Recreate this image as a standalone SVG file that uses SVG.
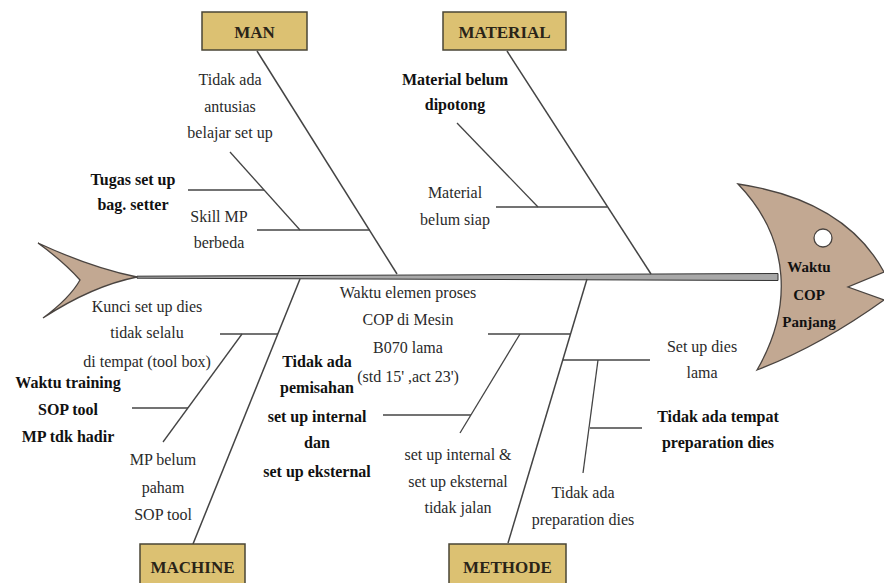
<svg xmlns="http://www.w3.org/2000/svg" width="884" height="583" viewBox="0 0 884 583">
<style>
text{font-family:'Liberation Serif','Times New Roman','DejaVu Serif',serif}
.t{font-size:16px;fill:#2a2a2a;text-anchor:middle}
.b{font-weight:bold;fill:#111}
.cat{fill:#dcc172;stroke:#4a4636;stroke-width:1.5}
.ct{font-size:17px;font-weight:bold;fill:#2a2418;text-anchor:middle}
.bone{stroke:#444;stroke-width:1.5;fill:none}
.sub{stroke:#444;stroke-width:1.3;fill:none}
.fish{fill:#c2a892;stroke:#4a4440;stroke-width:1.3}
</style>
<rect width="884" height="583" fill="#fff"/>
<g id="tail"><path class="fish" d="M38,243 Q92,268 137,277 Q92,286 43,318 Q70,298 80,280 Q64,262 38,243 Z"/></g>
<g id="spine"><polygon points="137,276.2 778,273.5 778,280.5 137,278.2" fill="#a8a8a8" stroke="#333" stroke-width="1"/></g>
<g id="head">
<path class="fish" d="M738,184 Q845,200 884,272 L848,287 L884,300 Q820,346 757,370 C792,310 792,240 738,184 Z"/>
<circle cx="823" cy="238" r="9" fill="#fff" stroke="#4a4440" stroke-width="1.3"/>
<text class="t b" x="809" y="272" style="font-size:15px">Waktu</text>
<text class="t b" x="809" y="300" style="font-size:15px">COP</text>
<text class="t b" x="809" y="327" style="font-size:15px">Panjang</text>
</g>
<g id="connectors">
<line class="bone" x1="257" y1="51" x2="397" y2="274"/>
<line class="sub" x1="257" y1="230" x2="370" y2="230"/>
<line class="sub" x1="230" y1="152" x2="300" y2="230"/>
<line class="sub" x1="188" y1="190" x2="264" y2="190"/>
<line class="bone" x1="507" y1="51" x2="651" y2="274"/>
<line class="sub" x1="496" y1="207" x2="607" y2="207"/>
<line class="sub" x1="457" y1="123" x2="538" y2="207"/>
<line class="bone" x1="193" y1="544" x2="300" y2="279"/>
<line class="sub" x1="220" y1="334" x2="278" y2="334"/>
<line class="sub" x1="242" y1="334" x2="163" y2="442"/>
<line class="sub" x1="132" y1="408" x2="188" y2="408"/>
<line class="bone" x1="508" y1="543" x2="587" y2="279"/>
<line class="sub" x1="488" y1="334" x2="571" y2="334"/>
<line class="sub" x1="520" y1="334" x2="460" y2="433"/>
<line class="sub" x1="383" y1="415" x2="471" y2="415"/>
<line class="sub" x1="563" y1="360" x2="650" y2="360"/>
<line class="sub" x1="598" y1="360" x2="583" y2="473"/>
<line class="sub" x1="590" y1="428" x2="642" y2="428"/>
</g>
<g id="man"><rect class="cat" x="202" y="12" width="105" height="38"/><text class="ct" x="254.5" y="38">MAN</text></g>
<g id="material"><rect class="cat" x="443" y="12" width="123" height="38"/><text class="ct" x="504.5" y="38">MATERIAL</text></g>
<g id="machine"><rect class="cat" x="140" y="544" width="105" height="42"/><text class="ct" x="192.5" y="573">MACHINE</text></g>
<g id="methode"><rect class="cat" x="449" y="544" width="117" height="42"/><text class="ct" x="507.5" y="573">METHODE</text></g>
<g id="man-causes">
<text class="t" x="230" y="85">Tidak ada</text>
<text class="t" x="230" y="112">antusias</text>
<text class="t" x="230" y="138">belajar set up</text>
<text class="t b" x="133" y="185">Tugas set up</text>
<text class="t b" x="133" y="210">bag. setter</text>
<text class="t" x="219" y="222">Skill MP</text>
<text class="t" x="219" y="248">berbeda</text>
</g>
<g id="material-causes">
<text class="t b" x="455" y="85">Material belum</text>
<text class="t b" x="455" y="110">dipotong</text>
<text class="t" x="455" y="198">Material</text>
<text class="t" x="455" y="225">belum siap</text>
</g>
<g id="machine-causes">
<text class="t" x="147" y="312">Kunci set up dies</text>
<text class="t" x="147" y="338">tidak selalu</text>
<text class="t" x="147" y="367">di tempat (tool box)</text>
<text class="t b" x="68" y="388">Waktu training</text>
<text class="t b" x="68" y="415">SOP tool</text>
<text class="t b" x="68" y="442">MP tdk hadir</text>
<text class="t" x="163" y="465">MP belum</text>
<text class="t" x="163" y="493">paham</text>
<text class="t" x="163" y="520">SOP tool</text>
</g>
<g id="effect-note">
<text class="t" x="408" y="298">Waktu elemen proses</text>
<text class="t" x="408" y="325">COP di Mesin</text>
<text class="t" x="408" y="353">B070 lama</text>
<text class="t" x="408" y="382">(std 15' ,act 23')</text>
</g>
<g id="methode-causes">
<text class="t b" x="317" y="367">Tidak ada</text>
<text class="t b" x="317" y="393">pemisahan</text>
<text class="t b" x="317" y="422">set up internal</text>
<text class="t b" x="317" y="448">dan</text>
<text class="t b" x="317" y="477">set up eksternal</text>
<text class="t" x="458" y="460">set up internal &amp;</text>
<text class="t" x="458" y="487">set up eksternal</text>
<text class="t" x="458" y="513">tidak jalan</text>
<text class="t" x="702" y="352">Set up dies</text>
<text class="t" x="702" y="378">lama</text>
<text class="t b" x="718" y="422">Tidak ada tempat</text>
<text class="t b" x="718" y="448">preparation dies</text>
<text class="t" x="583" y="498">Tidak ada</text>
<text class="t" x="583" y="525">preparation dies</text>
</g>
</svg>
